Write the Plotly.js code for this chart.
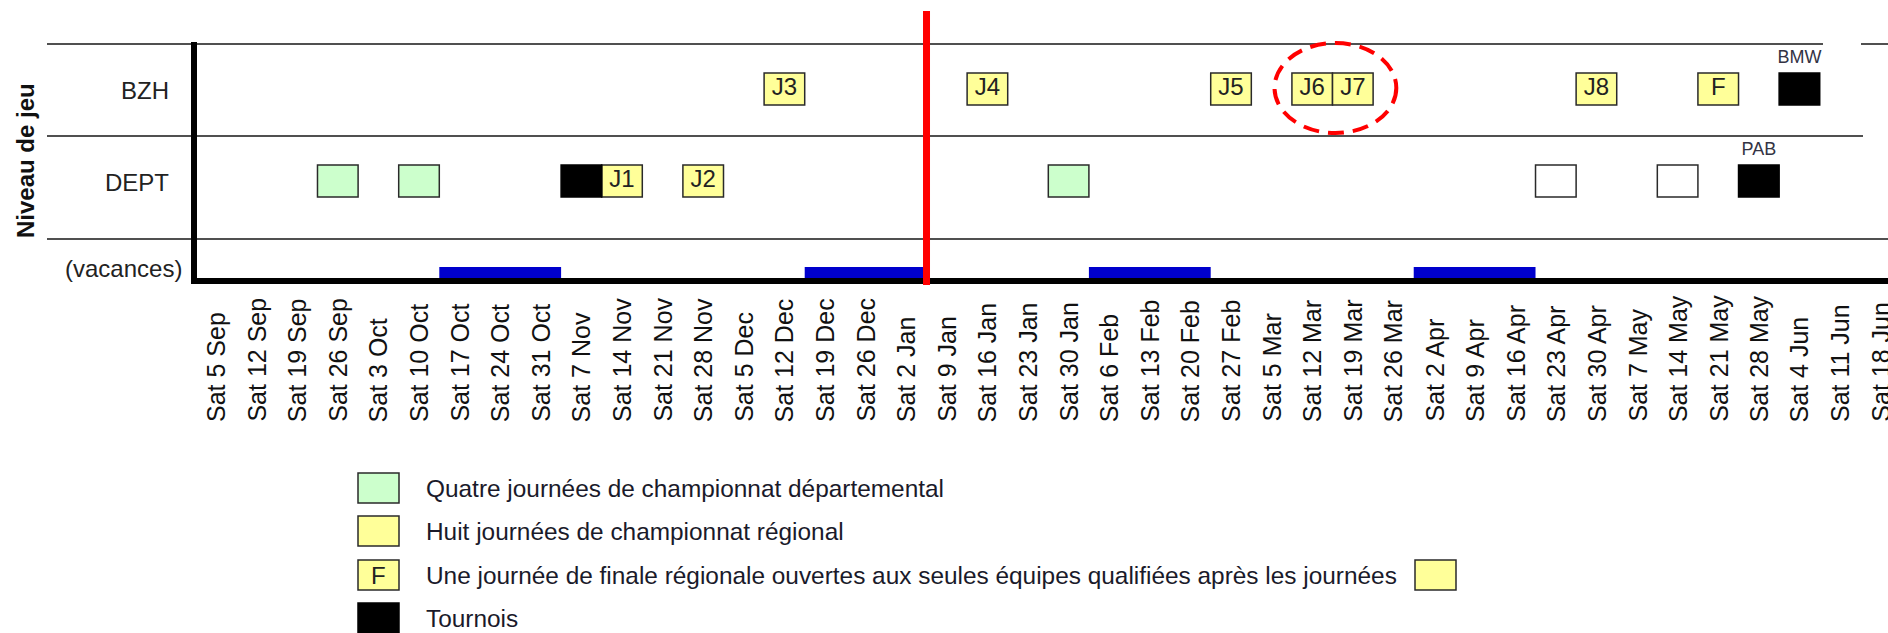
<!DOCTYPE html>
<html>
<head>
<meta charset="utf-8">
<script src="https://cdn.plot.ly/plotly-3.0.1.min.js"></script>
<style>
html,body{margin:0;padding:0;background:#fff;overflow:hidden;}
#chart{width:1888px;height:633px;}
</style>
</head>
<body>
<div id="chart"></div>
<script>
// ---------------- DATA ----------------
const tickDates = ['2015-09-05','2015-09-12','2015-09-19','2015-09-26','2015-10-03','2015-10-10','2015-10-17','2015-10-24','2015-10-31',
  '2015-11-07','2015-11-14','2015-11-21','2015-11-28','2015-12-05','2015-12-12','2015-12-19','2015-12-26','2016-01-02',
  '2016-01-09','2016-01-16','2016-01-23','2016-01-30','2016-02-06','2016-02-13','2016-02-20','2016-02-27','2016-03-05',
  '2016-03-12','2016-03-19','2016-03-26','2016-04-02','2016-04-09','2016-04-16','2016-04-23','2016-04-30','2016-05-07',
  '2016-05-14','2016-05-21','2016-05-28','2016-06-04','2016-06-11','2016-06-18'];
const tickLabels = ['Sat 5 Sep','Sat 12 Sep','Sat 19 Sep','Sat 26 Sep','Sat 3 Oct','Sat 10 Oct','Sat 17 Oct','Sat 24 Oct','Sat 31 Oct',
  'Sat 7 Nov','Sat 14 Nov','Sat 21 Nov','Sat 28 Nov','Sat 5 Dec','Sat 12 Dec','Sat 19 Dec','Sat 26 Dec','Sat 2 Jan',
  'Sat 9 Jan','Sat 16 Jan','Sat 23 Jan','Sat 30 Jan','Sat 6 Feb','Sat 13 Feb','Sat 20 Feb','Sat 27 Feb','Sat 5 Mar',
  'Sat 12 Mar','Sat 19 Mar','Sat 26 Mar','Sat 2 Apr','Sat 9 Apr','Sat 16 Apr','Sat 23 Apr','Sat 30 Apr','Sat 7 May',
  'Sat 14 May','Sat 21 May','Sat 28 May','Sat 4 Jun','Sat 11 Jun','Sat 18 Jun'];

const levels = ['BZH','DEPT','(vacances)'];

// Championnat départemental (green)
const deptDates = ['2015-09-26','2015-10-10','2016-01-30'];
const deptLevels = ['DEPT','DEPT','DEPT'];

// Championnat régional (yellow) + finale
const regDates = ['2015-11-14','2015-11-28','2015-12-12','2016-01-16','2016-02-27','2016-03-12','2016-03-19','2016-04-30','2016-05-21'];
const regLabels = ['J1','J2','J3','J4','J5','J6','J7','J8','F'];
const regLevels = ['DEPT','DEPT','BZH','BZH','BZH','BZH','BZH','BZH','BZH'];

// Open (white) slots
const openDates = ['2016-04-23','2016-05-14'];
const openLevels = ['DEPT','DEPT'];

// Tournois (black)
const tournDates = ['2015-11-07','2016-05-28','2016-06-04'];
const tournLevels = ['DEPT','DEPT','BZH'];
const tournLabels = ['','PAB','BMW'];

// Vacances
const vacStart = ['2015-10-17','2015-12-19','2016-02-06','2016-04-02'];
const vacEnd   = ['2015-10-31','2016-01-02','2016-02-20','2016-04-16'];

// Mid-season marker and highlighted rounds
const midSeason = '2016-01-05T12:00:00';
const highlight = ['J6','J7'];

const legendLabels = [
  'Quatre journées de championnat départemental',
  'Huit journées de championnat régional',
  'Une journée de finale régionale ouvertes aux seules équipes qualifiées après les journées',
  'Tournois'
];

// ---------------- LAYOUT HELPERS ----------------
const L = 194, T = 44, PW = 1694, PH = 237;
const px = x => (x - L) / PW;
const py = y => (T + PH - y) / PH;
const DAY = 864e5, WEEK = 7 * DAY;
const ms = d => new Date(d + (d.length === 10 ? 'T00:00:00Z' : 'Z')).getTime();
const rowY = {BZH: 192, DEPT: 100, '(vacances)': 8.5};
const boxH = 32;
const FONT = 'Liberation Sans, Arial, sans-serif';

function boxTrace(dates, lv, fill, line) {
  return {
    type: 'bar', orientation: 'h',
    base: dates.map(d => ms(d) - WEEK / 2),
    x: dates.map(() => WEEK),
    y: lv.map(l => rowY[l]),
    width: boxH,
    marker: {color: fill, line: {color: line, width: 1.5}},
    hoverinfo: 'skip', showlegend: false
  };
}

const traces = [
  boxTrace(deptDates, deptLevels, '#ccffcc', '#2a2a2a'),
  boxTrace(regDates, regLevels, '#ffff99', '#2a2a2a'),
  boxTrace(openDates, openLevels, '#ffffff', '#2a2a2a'),
  boxTrace(tournDates, tournLevels, '#000000', '#000000'),
  {
    type: 'bar', orientation: 'h',
    base: vacStart.map(d => ms(d) - WEEK / 2),
    x: vacStart.map((d, i) => ms(vacEnd[i]) - ms(d) + WEEK),
    y: vacStart.map(() => rowY['(vacances)']),
    width: 11,
    marker: {color: '#0000cc', line: {width: 0}},
    hoverinfo: 'skip', showlegend: false
  },
  {
    type: 'scatter', mode: 'text',
    x: regDates, y: regLevels.map(l => rowY[l]), text: regLabels,
    textfont: {family: FONT, size: 24, color: '#222'},
    cliponaxis: false, hoverinfo: 'skip', showlegend: false
  },
  {
    type: 'scatter', mode: 'text',
    x: tournDates, y: tournLevels.map(l => rowY[l] + 31), text: tournLabels,
    textfont: {family: FONT, size: 18, color: '#333344'},
    cliponaxis: false, hoverinfo: 'skip', showlegend: false
  }
];

const gray = '#505050';
const shapes = [
  // row separators
  {type:'line', xref:'paper', yref:'paper', x0:px(47), x1:px(1823), y0:py(44), y1:py(44), line:{color:gray, width:2}},
  {type:'line', xref:'paper', yref:'paper', x0:px(1861), x1:px(1888), y0:py(44), y1:py(44), line:{color:gray, width:2}},
  {type:'line', xref:'paper', yref:'paper', x0:px(47), x1:px(1863), y0:py(136), y1:py(136), line:{color:gray, width:2}},
  {type:'line', xref:'paper', yref:'paper', x0:px(47), x1:px(1888), y0:py(239), y1:py(239), line:{color:gray, width:2}},
  // axes
  {type:'line', xref:'paper', yref:'paper', x0:px(191), x1:px(1888), y0:py(281), y1:py(281), line:{color:'#000', width:6}},
  {type:'line', xref:'paper', yref:'paper', x0:px(194), x1:px(194), y0:py(284), y1:py(42), line:{color:'#000', width:6}},
  // mid-season red line
  {type:'line', xref:'x', yref:'paper', x0:midSeason, x1:midSeason, y0:py(285), y1:py(11), line:{color:'#ff0000', width:7}},
  // highlight ellipse around J6/J7
  {type:'circle', xref:'x', yref:'paper',
   x0: ms(regDates[regLabels.indexOf(highlight[0])]) - 6.5 * DAY,
   x1: ms(regDates[regLabels.indexOf(highlight[1])]) + 7.5 * DAY,
   y0: py(133), y1: py(43),
   line:{color:'#ff0000', width:4, dash:'16px,9px'}}
];

// legend (drawn manually)
const legRows = [488, 531, 575, 618];
const legFills = ['#ccffcc', '#ffff99', '#ffff99', '#000000'];
legRows.forEach((yc, i) => {
  shapes.push({type:'rect', xref:'paper', yref:'paper', x0:px(358), x1:px(399), y0:py(yc + 15), y1:py(yc - 15),
    fillcolor: legFills[i], line:{color: i === 3 ? '#000' : '#2a2a2a', width:1.5}});
});
shapes.push({type:'rect', xref:'paper', yref:'paper', x0:px(1415), x1:px(1456), y0:py(575 + 15), y1:py(575 - 15),
  fillcolor:'#ffff99', line:{color:'#2a2a2a', width:1.5}});

const annotations = [];
tickDates.forEach((d, i) => {
  annotations.push({xref:'x', yref:'paper', x:d, y:py(423), text:tickLabels[i], textangle:-90,
    xanchor:'center', yanchor:'bottom', showarrow:false, borderpad:0,
    font:{family:FONT, size:25, color:'#111'}});
});
const rowLabelRight = {BZH:170, DEPT:170, '(vacances)':183};
const rowLabelY = {BZH:90, DEPT:182, '(vacances)':268};
levels.forEach(l => {
  annotations.push({xref:'paper', yref:'paper', x:px(rowLabelRight[l]), y:py(rowLabelY[l]), text:l,
    xanchor:'right', yanchor:'middle', showarrow:false, borderpad:0,
    font:{family:FONT, size:24, color:'#222'}});
});
annotations.push({xref:'paper', yref:'paper', x:px(25), y:py(161), text:'<b>Niveau de jeu</b>', textangle:-90,
  xanchor:'center', yanchor:'middle', showarrow:false, borderpad:0, font:{family:FONT, size:24, color:'#111'}});
legendLabels.forEach((t, i) => {
  annotations.push({xref:'paper', yref:'paper', x:px(425), y:py(legRows[i]), text:t,
    xanchor:'left', yanchor:'middle', showarrow:false, borderpad:0, font:{family:FONT, size:24.4, color:'#1a1a2a'}});
});
annotations.push({xref:'paper', yref:'paper', x:px(378.5), y:py(575), text:'F', xanchor:'center', yanchor:'middle',
  showarrow:false, borderpad:0, font:{family:FONT, size:24, color:'#222'}});

const layout = {
  width: 1888, height: 633,
  margin: {l: L, r: 0, t: T, b: 633 - T - PH, pad: 0},
  paper_bgcolor: '#fff', plot_bgcolor: '#fff',
  barmode: 'overlay',
  showlegend: false,
  font: {family: FONT},
  xaxis: {type:'date', range:['2015-09-01 05:00', '2016-06-19 06:30'], showgrid:false, zeroline:false,
          showticklabels:false, ticks:'', showline:false, fixedrange:true},
  yaxis: {range:[0, PH], showgrid:false, zeroline:false, showticklabels:false, ticks:'', showline:false, fixedrange:true},
  shapes: shapes,
  annotations: annotations
};

Plotly.newPlot('chart', traces, layout, {staticPlot: true, displayModeBar: false});
</script>
</body>
</html>
